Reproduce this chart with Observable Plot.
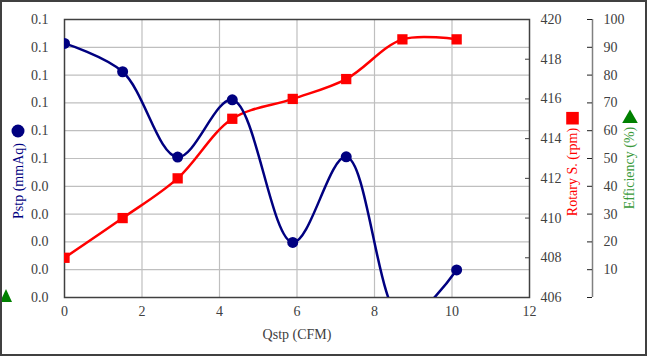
<!DOCTYPE html>
<html>
<head>
<meta charset="utf-8">
<script src="https://cdn.jsdelivr.net/npm/d3@7"></script>
<script src="https://cdn.jsdelivr.net/npm/@observablehq/plot@0.6"></script>
<style>
  html, body { margin: 0; padding: 0; background: #fff; font-family: "Liberation Serif", "DejaVu Serif", serif; }
  #wrap { position: relative; width: 647px; height: 356px; overflow: hidden; }
  #wrap svg { position: absolute; left: 0; top: 0; }
  #wrap svg text { font-family: "Liberation Serif", "DejaVu Serif", serif; }
  #border { position: absolute; left: 0; top: 0; width: 647px; height: 356px; box-sizing: border-box; border: 2px solid #404040; pointer-events: none; }
  #tri { position: absolute; left: 0px; top: 289px; width: 0; height: 0; border-left: 6.5px solid transparent; border-right: 6.5px solid transparent; border-bottom: 13px solid #008000; }
</style>
</head>
<body>
<div id="wrap"><div id="tri"></div><div id="border"></div></div>
<script>
// Data
const qstp = [0, 1.5, 2.92, 4.33, 5.89, 7.27, 8.72, 10.12];
const pstp = [0.0914, 0.0812, 0.0505, 0.0711, 0.0198, 0.0506, -0.008, 0.0099];
const rpm  = [408, 410, 412, 415, 416, 417, 419, 419];

// Axis ticks / labels
const xTicks = [0, 2, 4, 6, 8, 10, 12];
const xGrid = [2, 4, 6, 8, 10];
const leftTicks = [0, 0.01, 0.02, 0.03, 0.04, 0.05, 0.06, 0.07, 0.08, 0.09, 0.1];
const leftTickLabels = ["0.0", "0.0", "0.0", "0.0", "0.0", "0.1", "0.1", "0.1", "0.1", "0.1", "0.1"];
const rpmTicks = [406, 408, 410, 412, 414, 416, 418, 420];
const rpmRange = [406, 420];
const effTicks = [0, 10, 20, 30, 40, 50, 60, 70, 80, 90, 100];
const effLabelTicks = [10, 20, 30, 40, 50, 60, 70, 80, 90, 100];
const effRange = [0, 100];
const leftRange = [0, 0.1];

// secondary axes mapped onto the primary (left) scale
const fromRpm = v => leftRange[0] + (v - rpmRange[0]) / (rpmRange[1] - rpmRange[0]) * (leftRange[1] - leftRange[0]);
const toRpm = y => Math.round(rpmRange[0] + (y - leftRange[0]) / (leftRange[1] - leftRange[0]) * (rpmRange[1] - rpmRange[0]));
const fromEff = v => leftRange[0] + (v - effRange[0]) / (effRange[1] - effRange[0]) * (leftRange[1] - leftRange[0]);
const toEff = y => Math.round(effRange[0] + (y - leftRange[0]) / (leftRange[1] - leftRange[0]) * (effRange[1] - effRange[0]));

const rows = qstp.map((q, i) => ({q, p: pstp[i], r: fromRpm(rpm[i])}));

const font = "Liberation Serif, DejaVu Serif, serif";
const textGray = "#404040";

const chart = Plot.plot({
  width: 647,
  height: 356,
  marginLeft: 64,
  marginRight: 118,
  marginTop: 19,
  marginBottom: 59,
  style: "font-family: 'Liberation Serif', 'DejaVu Serif', serif; font-size: 14px; background: transparent; overflow: visible;",
  x: {domain: [0, 12], label: null},
  y: {domain: leftRange, label: null},
  marks: [
    Plot.gridY(leftTicks, {stroke: "#bfbfbf", strokeOpacity: 1, strokeWidth: 1.2}),
    Plot.gridX(xGrid, {stroke: "#bfbfbf", strokeOpacity: 1, strokeWidth: 1.2}),
    Plot.frame({stroke: "#404040", strokeWidth: 1.5}),
    // left axis
    Plot.axisY(leftTicks, {anchor: "left", label: null, tickSize: 0, tickPadding: 16, fill: textGray, fontSize: 14, fontFamily: font,
      tickFormat: d => leftTickLabels[leftTicks.indexOf(d)]}),
    // x axis
    Plot.axisX(xTicks, {anchor: "bottom", label: null, tickSize: 0, tickPadding: 9, fill: textGray, fontSize: 14, fontFamily: font, tickFormat: d => String(d)}),
    Plot.text(["Qstp (CFM)"], {frameAnchor: "bottom", dy: 41, fill: textGray, fontSize: 14, fontFamily: font}),
    // rpm axis: inward ticks + labels
    Plot.axisY(rpmTicks.map(fromRpm), {anchor: "left", label: null, dx: 465, tickSize: 4, stroke: "#404040", tickFormat: () => ""}),
    Plot.axisY(rpmTicks.map(fromRpm), {anchor: "right", label: null, tickSize: 0, tickPadding: 11, fill: textGray, fontSize: 14, fontFamily: font, tickFormat: toRpm}),
    // efficiency axis
    Plot.ruleX([12], {dx: 63, y1: leftRange[0], y2: leftRange[1], stroke: "#808080", strokeWidth: 1.5}),
    Plot.axisY(effTicks.map(fromEff), {anchor: "left", label: null, dx: 528, tickSize: 5, stroke: "#202020", tickFormat: () => ""}),
    Plot.axisY(effLabelTicks.map(fromEff), {anchor: "right", label: null, dx: 63, tickSize: 0, tickPadding: 11, fill: textGray, fontSize: 14, fontFamily: font, tickFormat: toEff}),
    // axis titles with their series markers
    Plot.text(["Pstp (mmAq)"], {frameAnchor: "left", textAnchor: "middle", dx: -46, dy: 22.5, rotate: -90, fill: "#000080", fontSize: 14, fontFamily: font}),
    Plot.dot([0], {frameAnchor: "left", dx: -46.5, dy: -27.5, r: 6.5, fill: "#000080", stroke: "none"}),
    Plot.text(["Rotary S. (rpm)"], {frameAnchor: "right", textAnchor: "middle", dx: 43.3, dy: 13.5, rotate: -90, fill: "#ff0000", fontSize: 14, fontFamily: font}),
    Plot.dot([0], {frameAnchor: "right", dx: 43, dy: -40.3, symbol: "square", r: 7.1, fill: "#ff0000", stroke: "none"}),
    Plot.text(["Efficiency (%)"], {frameAnchor: "right", textAnchor: "middle", dx: 100, dy: 9.5, rotate: -90, fill: "#3a9a3a", fontSize: 14, fontFamily: font}),
    Plot.dot([0], {frameAnchor: "right", dx: 100.5, dy: -40, symbol: "triangle", r: 5.8, fill: "#008000", stroke: "none"}),
    // series
    Plot.line(rows, {x: "q", y: "r", curve: "catmull-rom", stroke: "#ff0000", strokeWidth: 2.5, clip: true}),
    Plot.dot(rows, {x: "q", y: "r", symbol: "square", r: 5.8, fill: "#ff0000", stroke: "none", clip: true}),
    Plot.line(rows, {x: "q", y: "p", curve: "catmull-rom", stroke: "#000080", strokeWidth: 2.5, clip: true}),
    Plot.dot(rows, {x: "q", y: "p", r: 5.5, fill: "#000080", stroke: "none", clip: true})
  ]
});

document.getElementById("wrap").insertBefore(chart, document.getElementById("tri"));
</script>
</body>
</html>
